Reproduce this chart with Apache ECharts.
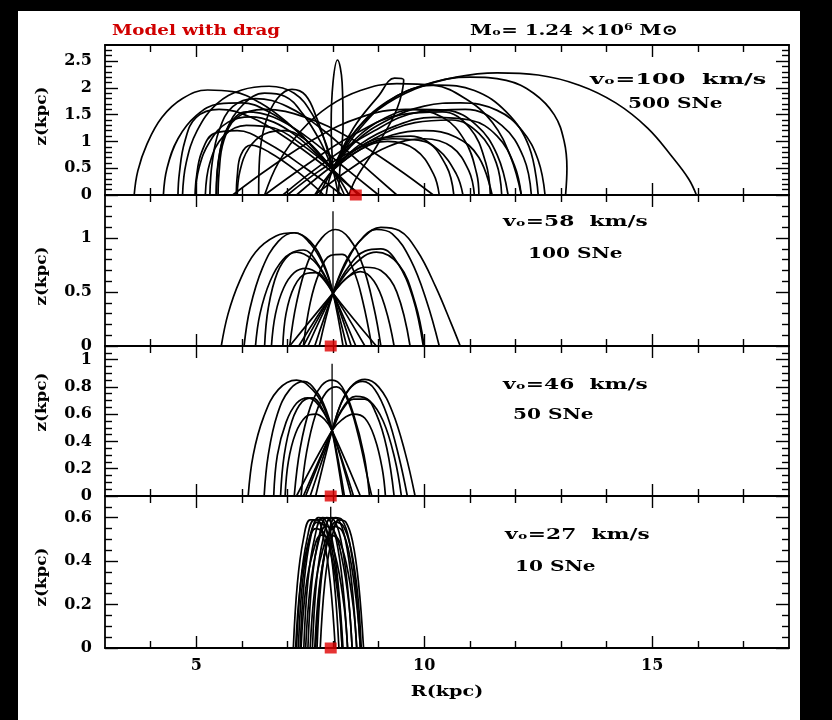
<!DOCTYPE html>
<html><head><meta charset="utf-8">
<script src="https://cdn.jsdelivr.net/npm/echarts@6/dist/echarts.min.js"></script>
<style>html,body{margin:0;padding:0;background:#fff;}#c{width:832px;height:720px;}</style>
</head><body><div id="c"></div>
<script>
// ---------------- data ----------------
const xRange = [3, 18];
const xMajorTicks = [5, 10, 15];
const xMinorTicks = [4, 6, 7, 8, 9, 11, 12, 13, 14, 16, 17];
const panelMax = [2.8, 1.4, 1.1, 0.7];
const panelLabels = [[0, 0.5, 1, 1.5, 2, 2.5], [0, 0.5, 1], [0, 0.2, 0.4, 0.6, 0.8, 1], [0, 0.2, 0.4, 0.6]];
const panelMinorStep = [0.1, 0.1, 0.05, 0.05];
const panelVel = ['vₒ=100  km/s', 'vₒ=58  km/s', 'vₒ=46  km/s', 'vₒ=27  km/s'];
const panelSNe = ['500 SNe', '100 SNe', '50 SNe', '10 SNe'];
const sourceMarks = [[8.5, 0], [7.95, 0], [7.95, 0], [7.95, 0]];

const panel1Paths = [
 [[3.64,0],[3.72,0.45],[3.92,0.95],[4.25,1.45],[4.7,1.8],[5.25,1.96],[5.8,1.93],[6.4,1.72],[7.0,1.35],[7.55,0.9],[8.0,0.47]],
 [[4.28,0],[4.36,0.5],[4.6,1.05],[5.0,1.48],[5.5,1.7],[6.0,1.72],[6.6,1.55],[7.2,1.2],[7.65,0.8],[8.0,0.47],[8.35,0]],
 [[4.98,0],[5.06,0.5],[5.3,1.0],[5.7,1.36],[6.2,1.46],[6.7,1.36],[7.2,1.1],[7.65,0.76],[8.0,0.47]],
 [[5.44,0],[5.48,0.6],[5.66,1.2],[6.02,1.68],[6.5,1.9],[6.95,1.84],[7.35,1.5],[7.72,1.0],[8.0,0.47],[8.25,0]],
 [[5.9,0],[5.96,0.45],[6.16,0.88],[6.5,1.14],[6.95,1.2],[7.35,1.06],[7.7,0.78],[8.0,0.47]],
 [[6.37,0],[6.39,0.7],[6.52,1.35],[6.78,1.8],[7.1,1.97],[7.4,1.86],[7.65,1.42],[7.85,0.92],[8.0,0.47],[8.12,0]],
 [[4.7,0],[4.78,0.6],[5.02,1.2],[5.45,1.7],[6.0,1.96],[6.6,2.03],[7.15,1.9],[7.55,1.5],[7.85,0.95],[8.0,0.47]],
 [[5.2,0],[5.3,0.6],[5.6,1.1],[6.1,1.3],[6.7,1.25],[7.3,0.95],[8.0,0.47],[8.55,0]],
 [[8.0,0.47],[8.4,1.1],[9.0,1.6],[9.8,1.98],[10.7,2.2],[11.6,2.28],[12.5,2.24],[13.4,2.05],[14.2,1.72],[14.9,1.25],[15.45,0.7],[15.8,0.3],[15.97,0]],
 [[8.0,0.47],[8.5,1.2],[9.2,1.75],[10.1,2.08],[11.0,2.2],[11.8,2.14],[12.4,1.9],[12.85,1.5],[13.07,1.0],[13.13,0.5],[13.1,0]],
 [[7.7,0],[8.0,0.47],[8.5,1.0],[9.2,1.4],[10.0,1.66],[10.8,1.72],[11.6,1.58],[12.15,1.2],[12.5,0.65],[12.65,0]],
 [[8.0,0.47],[8.6,0.95],[9.4,1.3],[10.2,1.45],[11.0,1.4],[11.6,1.1],[11.98,0.55],[12.13,0]],
 [[7.85,0],[8.0,0.47],[8.5,1.05],[9.1,1.42],[9.8,1.6],[10.5,1.58],[11.15,1.3],[11.6,0.75],[11.84,0]],
 [[8.0,0.47],[8.6,0.85],[9.3,1.12],[10.0,1.2],[10.7,1.08],[11.2,0.7],[11.49,0]],
 [[7.6,0],[8.0,0.47],[8.5,0.85],[9.1,1.07],[9.7,1.1],[10.3,0.85],[10.7,0.4],[10.85,0]],
 [[8.0,0.47],[8.6,0.85],[9.2,1.0],[9.8,0.85],[10.2,0.4],[10.33,0]],
 [[8.0,0.47],[8.6,1.25],[9.4,1.85],[10.3,2.05],[11.1,1.95],[11.8,1.55],[12.3,0.9],[12.5,0]],
 [[8.0,0.47],[7.96,1.3],[8.0,2.1],[8.1,2.52],[8.2,2.1],[8.22,1.3],[8.16,0.6],[8.12,0]],
 [[8.0,0.47],[8.45,1.25],[9.0,1.85],[9.35,2.18],[9.55,2.15],[9.4,1.6],[8.95,0.9],[8.5,0.3],[8.35,0]],
 [[6.5,0],[6.8,0.6],[7.3,1.2],[7.9,1.65],[8.6,1.95],[9.4,2.08],[10.2,2.05],[10.9,1.8],[11.5,1.35],[11.9,0.7],[12.13,0]],
 [[8.6,0],[7.8,0.55],[7.0,1.05],[6.2,1.45],[5.5,1.6],[5.0,1.45],[4.75,1.0],[4.63,0.4],[4.6,0]],
 [[8.2,0],[7.4,0.5],[6.6,0.95],[5.9,1.2],[5.4,1.15],[5.12,0.8],[5.0,0.3],[4.98,0]],
 [[9.0,0],[8.2,0.55],[7.4,1.1],[6.7,1.45],[6.1,1.55],[5.72,1.3],[5.52,0.8],[5.44,0]],
 [[7.8,0],[7.2,0.45],[6.6,0.8],[6.2,0.93],[5.98,0.75],[5.9,0.35],[5.88,0]],
 [[9.4,0],[8.6,0.6],[7.8,1.2],[7.0,1.65],[6.3,1.8],[5.8,1.65],[5.5,1.2],[5.35,0.6],[5.3,0]],
 [[10.2,0],[9.4,0.5],[8.4,1.05],[7.4,1.45],[6.5,1.6],[5.9,1.45],[5.6,1.0],[5.5,0.4],[5.48,0]],
 [[7.2,0],[8.0,0.55],[8.9,1.05],[9.8,1.35],[10.6,1.4],[11.2,1.15],[11.58,0.6],[11.7,0]],
 [[6.9,0],[7.8,0.6],[8.8,1.15],[9.9,1.55],[10.9,1.6],[11.7,1.3],[12.18,0.7],[12.35,0]],
 [[7.6,0],[8.4,0.5],[9.2,0.9],[10.0,1.05],[10.6,0.9],[10.98,0.45],[11.1,0]],
 [[7.0,0],[7.7,0.45],[8.5,0.85],[9.3,1.05],[10.0,1.0],[10.48,0.55],[10.65,0]],
 [[6.5,0],[7.4,0.55],[8.4,1.1],[9.5,1.5],[10.4,1.55],[11.0,1.25],[11.35,0.6],[11.45,0]],
 [[5.8,0],[6.6,0.5],[7.6,1.05],[8.6,1.45],[9.6,1.6],[10.4,1.45],[10.9,1.0],[11.15,0.4],[11.2,0]]
];

const panel2Paths = [
 [[5.55,0],[5.7,0.3],[5.95,0.6],[6.3,0.87],[6.75,1.02],[7.15,1.05],[7.5,0.95],[7.8,0.74],[8.0,0.49],[8.3,0]],
 [[6.05,0],[6.18,0.35],[6.45,0.72],[6.8,0.97],[7.15,1.05],[7.5,0.97],[7.8,0.76],[8.0,0.49],[8.22,0]],
 [[6.3,0],[6.4,0.3],[6.62,0.6],[6.9,0.8],[7.2,0.87],[7.55,0.8],[7.8,0.66],[8.0,0.49],[8.5,0]],
 [[6.65,0],[6.74,0.3],[6.92,0.54],[7.15,0.68],[7.4,0.72],[7.7,0.66],[8.0,0.49],[8.7,0]],
 [[6.9,0],[6.97,0.3],[7.15,0.55],[7.4,0.67],[7.65,0.68],[7.85,0.6],[8.0,0.49],[8.95,0]],
 [[6.5,0],[6.58,0.35],[6.78,0.68],[7.05,0.85],[7.35,0.89],[7.7,0.74],[8.0,0.49],[8.4,0]],
 [[7.05,0],[7.2,0.4],[7.45,0.78],[7.75,1.0],[8.05,1.08],[8.35,1.0],[8.65,0.75],[8.9,0.35],[9.05,0]],
 [[7.35,0],[7.5,0.4],[7.7,0.68],[7.95,0.84],[8.2,0.85],[8.45,0.7],[8.65,0.42],[8.85,0]],
 [[7.6,0],[8.0,0.49],[8.3,0.8],[8.65,1.0],[9.05,1.1],[9.45,1.07],[9.85,0.88],[10.25,0.55],[10.6,0.2],[10.79,0]],
 [[7.7,0],[8.0,0.49],[8.3,0.78],[8.6,0.98],[8.95,1.08],[9.3,1.04],[9.7,0.8],[10.05,0.42],[10.33,0]],
 [[7.45,0],[8.0,0.49],[8.35,0.74],[8.7,0.88],[9.05,0.9],[9.4,0.78],[9.75,0.45],[9.98,0]],
 [[7.25,0],[8.0,0.49],[8.35,0.65],[8.7,0.73],[9.05,0.7],[9.4,0.5],[9.69,0]],
 [[7.05,0],[8.0,0.49],[8.3,0.63],[8.6,0.69],[8.9,0.6],[9.15,0.35],[9.34,0]],
 [[7.35,0],[8.0,0.49],[8.45,0.75],[8.95,0.87],[9.45,0.75],[9.8,0.4],[10.0,0]]
];
const panel2Spike = [[8.0, 0.49], [8.0, 1.25]];

const panel3Paths = [
 [[6.14,0],[6.25,0.3],[6.48,0.58],[6.8,0.78],[7.2,0.85],[7.55,0.78],[7.8,0.65],[7.98,0.48],[8.25,0]],
 [[6.49,0],[6.58,0.3],[6.78,0.6],[7.05,0.78],[7.36,0.84],[7.65,0.76],[7.85,0.63],[7.98,0.48],[8.22,0]],
 [[6.7,0],[6.78,0.3],[6.97,0.54],[7.2,0.68],[7.45,0.72],[7.72,0.65],[7.98,0.48],[8.4,0]],
 [[6.95,0],[7.02,0.25],[7.18,0.46],[7.4,0.58],[7.62,0.6],[7.82,0.56],[7.98,0.48],[8.6,0]],
 [[6.85,0],[6.93,0.3],[7.1,0.55],[7.32,0.69],[7.55,0.72],[7.78,0.63],[7.98,0.48],[8.45,0]],
 [[7.15,0],[7.28,0.35],[7.5,0.65],[7.75,0.81],[7.98,0.85],[8.2,0.8],[8.45,0.6],[8.68,0.3],[8.8,0]],
 [[7.3,0],[7.42,0.32],[7.62,0.6],[7.85,0.76],[8.08,0.8],[8.3,0.72],[8.55,0.45],[8.78,0.1],[8.85,0]],
 [[7.5,0],[7.98,0.48],[8.2,0.7],[8.45,0.82],[8.7,0.855],[9.0,0.8],[9.3,0.62],[9.58,0.32],[9.8,0]],
 [[7.62,0],[7.98,0.48],[8.18,0.68],[8.4,0.8],[8.65,0.84],[8.92,0.78],[9.2,0.58],[9.45,0.28],[9.63,0]],
 [[7.35,0],[7.98,0.48],[8.2,0.63],[8.45,0.71],[8.7,0.71],[8.95,0.6],[9.18,0.35],[9.34,0]],
 [[7.2,0],[7.98,0.48],[8.2,0.56],[8.45,0.6],[8.7,0.57],[8.92,0.42],[9.08,0.2],[9.15,0]],
 [[7.4,0],[7.98,0.48],[8.22,0.65],[8.5,0.73],[8.8,0.7],[9.1,0.55],[9.35,0.28],[9.5,0]]
];
const panel3Spike = [[7.98, 0.48], [7.98, 0.97]];

const panel4Paths = [
 [[7.13,0],[7.22,0.3],[7.35,0.5],[7.5,0.59],[7.65,0.59],[7.8,0.5],[7.94,0.3],[8.05,0]],
 [[7.2,0],[7.29,0.3],[7.43,0.5],[7.59,0.59],[7.74,0.59],[7.9,0.5],[8.03,0.3],[8.13,0]],
 [[7.28,0],[7.37,0.31],[7.51,0.51],[7.68,0.6],[7.83,0.59],[7.98,0.5],[8.11,0.3],[8.22,0]],
 [[7.36,0],[7.45,0.31],[7.6,0.51],[7.77,0.6],[7.92,0.59],[8.07,0.5],[8.21,0.3],[8.32,0]],
 [[7.45,0],[7.54,0.31],[7.69,0.51],[7.86,0.6],[8.02,0.59],[8.17,0.5],[8.31,0.3],[8.42,0]],
 [[7.55,0],[7.64,0.31],[7.79,0.51],[7.96,0.6],[8.12,0.59],[8.27,0.5],[8.41,0.3],[8.52,0]],
 [[7.65,0],[7.74,0.31],[7.89,0.51],[8.05,0.6],[8.2,0.59],[8.35,0.5],[8.49,0.3],[8.6,0]],
 [[7.72,0],[7.82,0.3],[7.97,0.5],[8.13,0.59],[8.28,0.58],[8.43,0.49],[8.56,0.3],[8.67,0]],
 [[7.18,0],[7.28,0.28],[7.44,0.47],[7.62,0.55],[7.8,0.53],[7.97,0.42],[8.12,0.22],[8.2,0]],
 [[7.4,0],[7.5,0.28],[7.66,0.47],[7.84,0.56],[8.02,0.54],[8.19,0.42],[8.34,0.22],[8.42,0]],
 [[7.6,0],[7.7,0.28],[7.86,0.47],[8.03,0.56],[8.2,0.54],[8.37,0.42],[8.52,0.2],[8.6,0]],
 [[7.3,0],[7.4,0.27],[7.56,0.44],[7.74,0.52],[7.92,0.5],[8.1,0.38],[8.25,0.18],[8.32,0]],
 [[7.5,0],[7.6,0.27],[7.76,0.44],[7.94,0.52],[8.12,0.5],[8.3,0.38],[8.45,0.18],[8.52,0]],
 [[7.24,0],[7.33,0.3],[7.48,0.5],[7.65,0.58],[7.82,0.56],[7.98,0.45],[8.12,0.25],[8.2,0]],
 [[7.62,0],[7.72,0.3],[7.88,0.5],[8.06,0.58],[8.23,0.56],[8.4,0.45],[8.54,0.25],[8.62,0]]
];
const panel4Spike = [[7.95, 0.5], [7.95, 0.65]];

const panelPaths = [panel1Paths, panel2Paths, panel3Paths, panel4Paths];
const panelSpikes = [null, panel2Spike, panel3Spike, panel4Spike];

// ---------------- layout ----------------
const FONT = '"DejaVu Serif", "Liberation Serif", serif';
const gridBoxes = [{top: 45, h: 150}, {top: 195, h: 151}, {top: 346, h: 150}, {top: 496, h: 152}];
const zLabelY = [116, 276, 402, 577];
const velPos = [[590, 80, 1.6], [503, 222, 1.45], [503, 385, 1.45], [505, 535, 1.45]];
const snePos = [[628, 104], [528, 254], [513, 415], [515, 567]];

function minorTicks(max, step, majors) {
  const out = [];
  for (let k = 1; k * step < max - 1e-9; k++) {
    const v = Math.round(k * step * 1000) / 1000;
    if (!majors.some(m => Math.abs(m - v) < 1e-6)) out.push(v);
  }
  return out;
}
function txt(text, x, y, sx, fill, align) {
  return {type: 'text', x: x, y: y, scaleX: sx,
    style: {text: text, fill: fill || '#000', font: 'bold 15px ' + FONT, align: align || 'left', verticalAlign: 'middle'}};
}

const chart = echarts.init(document.getElementById('c'), null, {renderer: 'canvas'});
const option = {
  backgroundColor: '#fff',
  animation: false,
  grid: [], xAxis: [], yAxis: [], series: [], graphic: []
};

const lineSty = {color: '#000', width: 1.8};
const labelSty = {color: '#000', fontFamily: FONT, fontSize: 16, fontWeight: 'bold'};
gridBoxes.forEach((g, gi) => {
  option.grid.push({left: 105, right: 43, top: g.top, height: g.h, containLabel: false});
  const base = gi * 4;
  [['bottom', xMajorTicks, 12, true], ['bottom', xMinorTicks, 7, false], ['top', xMajorTicks, 12, true], ['top', xMinorTicks, 7, false]].forEach(([pos, vals, len, line], k) => {
    option.xAxis.push({
      type: 'value', gridIndex: gi, min: xRange[0], max: xRange[1], position: pos,
      axisLine: {show: line, onZero: false, lineStyle: lineSty},
      axisTick: {show: true, inside: true, length: len, customValues: vals, lineStyle: {color: '#000', width: 1.4}},
      axisLabel: Object.assign({show: gi === 3 && k === 0, customValues: xMajorTicks, margin: 10}, labelSty),
      splitLine: {show: false}
    });
  });
  const majors = panelLabels[gi];
  const minors = minorTicks(panelMax[gi], panelMinorStep[gi], majors);
  [['left', majors, 13, true], ['left', minors, 7, false], ['right', majors, 13, true], ['right', minors, 7, false]].forEach(([pos, vals, len, line], k) => {
    option.yAxis.push({
      type: 'value', gridIndex: gi, min: 0, max: panelMax[gi], position: pos,
      axisLine: {show: line, onZero: false, lineStyle: lineSty},
      axisTick: {show: true, inside: true, length: len, customValues: vals, lineStyle: {color: '#000', width: 1.4}},
      axisLabel: Object.assign({show: k === 0, customValues: majors, margin: 13,
        formatter: v => String(Math.round(v * 100) / 100)}, labelSty),
      splitLine: {show: false}
    });
  });
  panelPaths[gi].forEach(p => {
    option.series.push({
      type: 'line', xAxisIndex: base, yAxisIndex: base, data: p, smooth: 0.4,
      symbol: 'none', silent: true, lineStyle: {color: '#000', width: 1.7}, z: 3
    });
  });
  if (panelSpikes[gi]) {
    option.series.push({
      type: 'line', xAxisIndex: base, yAxisIndex: base, data: panelSpikes[gi],
      symbol: 'none', silent: true, lineStyle: {color: '#000', width: 1.3}, z: 3
    });
  }
  option.series.push({
    type: 'scatter', xAxisIndex: base, yAxisIndex: base, data: [sourceMarks[gi]],
    symbol: 'rect', symbolSize: [12, 11], itemStyle: {color: '#e00000'}, clip: false, silent: true, z: 5
  });
  option.graphic.push(txt(panelVel[gi], velPos[gi][0], velPos[gi][1], velPos[gi][2]));
  option.graphic.push(txt(panelSNe[gi], snePos[gi][0], snePos[gi][1], 1.34));
  option.graphic.push({type: 'text', x: 42, y: zLabelY[gi], rotation: Math.PI / 2, scaleX: 1.12,
    style: {text: 'z(kpc)', fill: '#000', font: 'bold 15px ' + FONT, align: 'center', verticalAlign: 'middle'}});
});

option.graphic.push(
  txt('Model with drag', 112, 31, 1.22, '#d00000'),
  txt('Mₒ= 1.24 ×10⁶ M⊙', 470, 31, 1.32),
  txt('R(kpc)', 447, 692, 1.28, '#000', 'center'),
  {type: 'rect', shape: {x: 0, y: 0, width: 18, height: 720}, style: {fill: '#000'}, silent: true},
  {type: 'rect', shape: {x: 0, y: 0, width: 832, height: 11}, style: {fill: '#000'}, silent: true},
  {type: 'rect', shape: {x: 800, y: 0, width: 32, height: 720}, style: {fill: '#000'}, silent: true}
);

chart.setOption(option);
</script></body></html>
